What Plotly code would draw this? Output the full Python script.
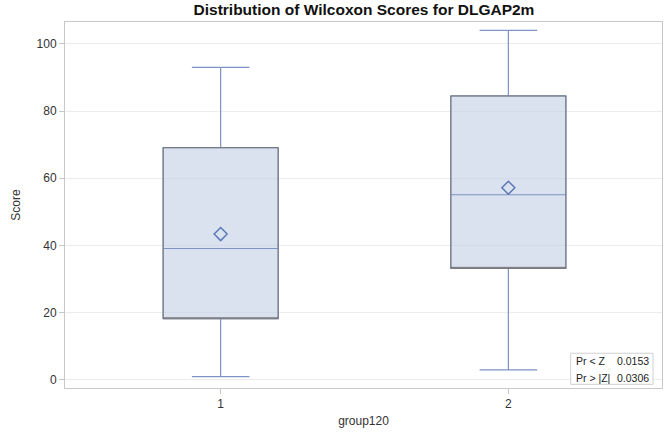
import plotly.graph_objects as go

groups = [1, 2]
q1 = [18.2, 33.2]
median = [39.1, 55.1]
q3 = [69.1, 84.5]
lower = [1.0, 3.0]
upper = [93.0, 104.0]
means = [43.4, 57.2]
stat_labels = ["Pr < Z", "Pr > |Z|"]
stat_values = ["0.0153", "0.0306"]

FONT = "Liberation Sans, Arial, sans-serif"
fig = go.Figure()
fig.add_trace(go.Box(
    x=groups, q1=q1, median=median, q3=q3, lowerfence=lower, upperfence=upper,
    width=0.4, whiskerwidth=0.5, fillcolor="rgba(198,211,231,0.65)",
    line=dict(color="#7d93c3", width=1.2), boxpoints=False, showlegend=False,
    hoverinfo="skip"))
fig.add_trace(go.Box(
    x=groups, q1=q1, median=q1, q3=q3, lowerfence=q1, upperfence=q3,
    width=0.4, whiskerwidth=0, fillcolor="rgba(0,0,0,0)",
    line=dict(color="#767676", width=1), boxpoints=False, showlegend=False,
    hoverinfo="skip"))
fig.add_trace(go.Scatter(
    x=groups, y=means, mode="markers",
    marker=dict(symbol="diamond-open", size=10, color="#5d78b6", line=dict(width=1.5)),
    showlegend=False, hoverinfo="skip"))

fig.update_layout(
    width=666, height=435, boxmode="overlay",
    margin=dict(l=65, r=4, t=22, b=47, autoexpand=False),
    paper_bgcolor="white", plot_bgcolor="white",
    font=dict(family=FONT, size=12, color="#333333"),
    title=dict(text="<b>Distribution of Wilcoxon Scores for DLGAP2m</b>",
               x=0.5465, xanchor="center", y=0.977, yanchor="middle",
               font=dict(family=FONT, size=15.5, color="#111111")),
    xaxis=dict(type="linear", range=[0.459, 2.534], tickvals=groups, automargin=False,
               ticktext=[str(g) for g in groups], showgrid=False, zeroline=False,
               showline=True, linecolor="#c8c8c8", mirror=True, ticks="outside",
               ticklen=5, tickcolor="#c8c8c8",
               title=dict(text="group120", standoff=6, font=dict(size=12))),
    yaxis=dict(range=[-2.4, 106.5], tickvals=[0, 20, 40, 60, 80, 100], automargin=False,
               showgrid=True, gridcolor="#ececec", zeroline=False,
               showline=True, linecolor="#c8c8c8", mirror=True, ticks="outside",
               ticklen=5, tickcolor="#c8c8c8",
               title=dict(text="Score", standoff=13, font=dict(size=12))),
)

# inset statistics box
fig.add_shape(type="rect", xref="paper", yref="paper",
              x0=0.847, x1=0.985, y0=0.01, y1=0.095,
              line=dict(color="#d0d0d0", width=1), fillcolor="white")
for i, (lab, val) in enumerate(zip(stat_labels, stat_values)):
    yy = 0.073 - i * 0.045
    fig.add_annotation(xref="paper", yref="paper", x=0.853, y=yy, text=lab,
                       showarrow=False, xanchor="left", yanchor="middle",
                       font=dict(size=10.5, color="#222222"))
    fig.add_annotation(xref="paper", yref="paper", x=0.981, y=yy, text=val,
                       showarrow=False, xanchor="right", yanchor="middle",
                       font=dict(size=10.5, color="#222222"))

fig.write_html("out.html", post_script="document.body.style.margin='0';",
               config={"displayModeBar": False})
